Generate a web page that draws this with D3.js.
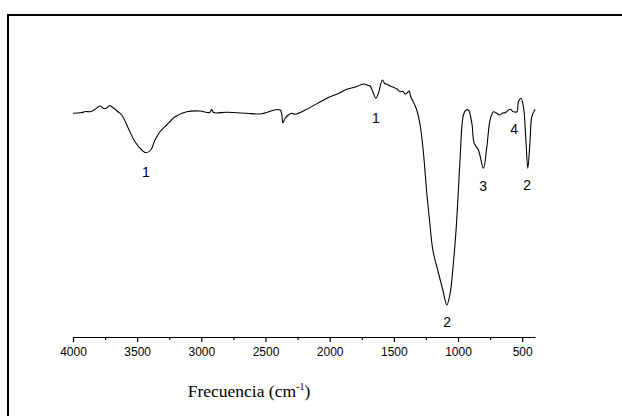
<!DOCTYPE html>
<html>
<head>
<meta charset="utf-8">
<script src="https://cdn.jsdelivr.net/npm/d3@7"></script>
<style>
  body { margin: 0; background: #fff; }
  svg { display: block; }
</style>
</head>
<body>
<svg id="chart"></svg>
<script>
// spectrum: wavenumber (cm-1) and transmittance (arb. %)
var wavenumber = [4000, 3940, 3900, 3867, 3830, 3790, 3760, 3737, 3715, 3698, 3675, 3649, 3620, 3569, 3517, 3464, 3431,
  3394, 3361, 3322, 3270, 3205, 3114, 3010, 2935, 2920, 2905, 2802, 2646, 2542, 2386, 2365, 2347, 2322, 2295, 2270,
  2178, 2022, 1919, 1867, 1800, 1737, 1700, 1685, 1659, 1640, 1620, 1589, 1570, 1555, 1530, 1503, 1475, 1451, 1430,
  1412, 1395, 1381, 1368, 1326, 1295, 1269, 1243, 1222, 1196, 1152, 1118, 1087, 1061, 1036, 1015, 997, 983, 958,
  937, 919, 892, 874, 841, 802, 775, 750, 724, 703, 677, 650, 632, 594, 568, 541, 529, 510, 490, 471, 456, 438, 425, 399];
var transmittance = [77.1, 77.3, 77.8, 77.7, 78.6, 80.0, 79.0, 79.2, 80.2, 79.7, 78.8, 77.7, 76.4, 71.1, 65.7, 62.4, 61.3,
  62.4, 66.4, 69.7, 72.4, 75.7, 77.7, 78.0, 77.4, 78.6, 77.4, 77.5, 77.1, 76.8, 78.4, 73.3, 75.1, 76.4, 77.1, 76.7,
  78.7, 83.1, 85.3, 86.7, 87.6, 88.8, 88.2, 88.0, 85.1, 83.1, 85.1, 90.4, 88.9, 88.8, 88.0, 87.5, 86.8, 85.7, 85.9,
  84.8, 85.3, 86.0, 83.7, 79.1, 72.4, 61.1, 45.1, 34.4, 22.4, 13.1, 6.4, 0.4, 5.1, 17.1, 30.4, 46.4, 59.7, 76.4,
  78.4, 78.4, 73.1, 65.1, 62.4, 55.1, 63.7, 74.4, 77.7, 77.3, 76.4, 77.2, 77.3, 78.7, 77.7, 77.7, 81.7, 83.1, 79.7, 66.4, 55.1, 66.4, 75.7, 78.7];

// band labels
var bandText = ["1", "1", "2", "3", "4", "2"];
var bandPos = [3431, 1640, 1085, 804, 562, 461];
var bandLevel = [53.6, 75.2, -6.4, 48.0, 70.8, 48.4];

var majorTicks = [4000, 3500, 3000, 2500, 2000, 1500, 1000, 500];
var minorTicks = [3750, 3250, 2750, 2250, 1750, 1250, 750];

var W = 622, H = 416;
var svg = d3.select("#chart").attr("width", W).attr("height", H);

// outer frame (runs off the right and bottom edges)
svg.append("rect")
  .attr("x", 8).attr("y", 15)
  .attr("width", 640).attr("height", 440)
  .attr("fill", "none").attr("stroke", "#000").attr("stroke-width", 2);

var x = d3.scaleLinear().domain([4000, 400]).range([73, 535]);
var y = d3.scaleLinear().domain([0, 100]).range([306, 56]);
var axisY = 337;

var xAxis = d3.axisBottom(x).tickValues(majorTicks).tickSize(5).tickSizeOuter(0).tickFormat(d3.format("d"));
var gx = svg.append("g").attr("transform", "translate(0," + axisY + ")").call(xAxis);
gx.select(".domain").attr("stroke", "#000").attr("stroke-width", 1.2);
gx.selectAll(".tick line").attr("stroke", "#000").attr("stroke-width", 1.2);
gx.selectAll(".tick text")
  .attr("font-family", "Liberation Sans, Arial, sans-serif")
  .attr("font-size", 12).attr("fill", "#000").attr("dy", "0.95em");

svg.append("g").attr("transform", "translate(0," + axisY + ")")
  .call(d3.axisBottom(x).tickValues(minorTicks).tickSize(3).tickFormat(""))
  .call(function (g) {
    g.select(".domain").remove();
    g.selectAll(".tick line").attr("stroke", "#000").attr("stroke-width", 1.2);
  });

var pts = wavenumber.map(function (w, i) { return [w, transmittance[i]]; });
var line = d3.line()
  .x(function (d) { return x(d[0]); })
  .y(function (d) { return y(d[1]); })
  .curve(d3.curveCatmullRom.alpha(0.5));

svg.append("path").datum(pts)
  .attr("d", line)
  .attr("fill", "none").attr("stroke", "#000").attr("stroke-width", 1.1);

svg.selectAll("text.band").data(bandText).enter().append("text")
  .attr("class", "band")
  .attr("x", function (d, i) { return x(bandPos[i]); })
  .attr("y", function (d, i) { return y(bandLevel[i]); })
  .attr("dy", "0.36em")
  .attr("text-anchor", "middle")
  .attr("font-family", "Liberation Sans, Arial, sans-serif")
  .attr("font-size", 14)
  .attr("fill", "#000")
  .text(function (d) { return d; });

// axis title
var title = svg.append("text")
  .attr("x", 249).attr("y", 397)
  .attr("text-anchor", "middle")
  .attr("font-family", "Liberation Serif, Times New Roman, serif")
  .attr("font-size", 17.5)
  .attr("fill", "#000");
title.append("tspan").text("Frecuencia (cm");
title.append("tspan").attr("font-size", 10).attr("dy", -7).text("-1");
title.append("tspan").attr("dy", 7).text(")");
</script>
</body>
</html>
